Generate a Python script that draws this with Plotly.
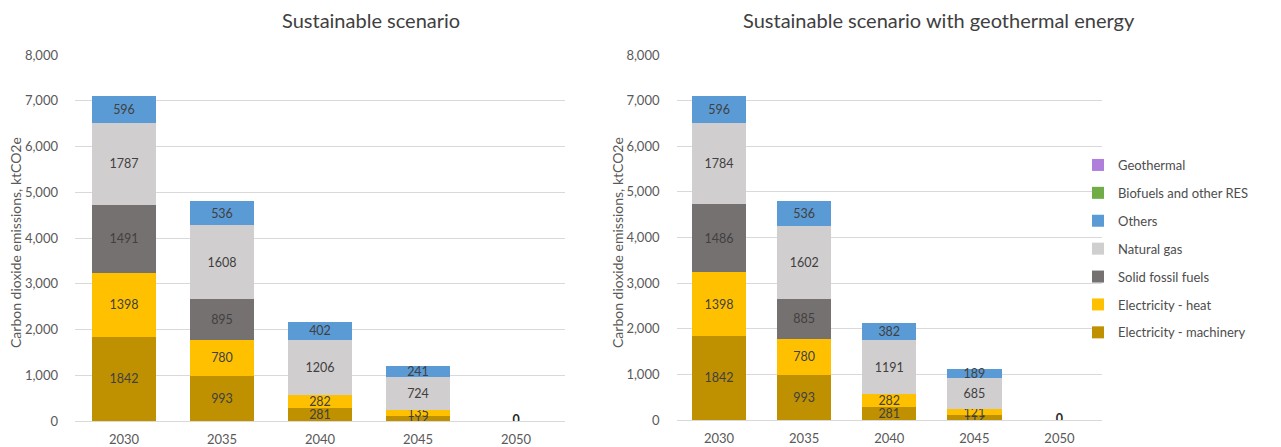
import plotly.graph_objects as go

years = ["2030", "2035", "2040", "2045", "2050"]

series_names = [
    "Electricity - machinery",
    "Electricity - heat",
    "Solid fossil fuels",
    "Natural gas",
    "Others",
    "Biofuels and other RES",
    "Geothermal",
]
series_colors = ["#BF9000", "#FFC000", "#767171", "#D0CECE", "#5B9BD5", "#70AD47", "#B07FDB"]

# Sustainable scenario (ktCO2e)
sus_machinery = [1842, 993, 281, 112, 0]
sus_heat = [1398, 780, 282, 135, 0]
sus_solid = [1491, 895, 0, 0, 0]
sus_gas = [1787, 1608, 1206, 724, 0]
sus_others = [596, 536, 402, 241, 0]
sus_biofuels = [0, 0, 0, 0, 0]
sus_geothermal = [0, 0, 0, 0, 0]

# Sustainable scenario with geothermal energy (ktCO2e)
geo_machinery = [1842, 993, 281, 112, 0]
geo_heat = [1398, 780, 282, 121, 0]
geo_solid = [1486, 885, 0, 0, 0]
geo_gas = [1784, 1602, 1191, 685, 0]
geo_others = [596, 536, 382, 189, 0]
geo_biofuels = [0, 0, 0, 0, 0]
geo_geothermal = [0, 0, 0, 0, 0]

panels = [
    ("x", "y", [sus_machinery, sus_heat, sus_solid, sus_gas, sus_others, sus_biofuels, sus_geothermal], False),
    ("x2", "y2", [geo_machinery, geo_heat, geo_solid, geo_gas, geo_others, geo_biofuels, geo_geothermal], True),
]

FONT = "Lato, 'Open Sans', sans-serif"
LABEL_COLOR = "#404040"
n_series = len(series_names)

fig = go.Figure()
for xa, ya, data, show_legend in panels:
    for i, (name, color, vals) in enumerate(zip(series_names, series_colors, data)):
        fig.add_trace(go.Bar(
            x=years, y=vals, name=name, xaxis=xa, yaxis=ya,
            marker=dict(color=color, line=dict(width=0)),
            text=[str(v) if v else "" for v in vals],
            textposition="inside", insidetextanchor="middle",
            textfont=dict(family=FONT, size=12.5, color=LABEL_COLOR),
            showlegend=show_legend, legendgroup=name, legendrank=n_series - i,
            width=0.65 if xa == "x" else 0.64,
        ))
    # zero-total label for years with no emissions
    totals = [sum(col) for col in zip(*data)]
    zx = [yr for yr, t in zip(years, totals) if t == 0]
    zy = [t for t in totals if t == 0]
    fig.add_trace(go.Scatter(
        x=zx, y=zy, xaxis=xa, yaxis=ya, mode="text",
        text=[f"<b>{t}</b>" for t in zy], textposition="middle center",
        textfont=dict(family=FONT, size=12.5, color="#262626"),
        showlegend=False, hoverinfo="skip",
    ))

yaxis_common = dict(
    range=[0, 8000], tickvals=list(range(0, 8001, 1000)), tickformat=",d",
    showgrid=True, gridcolor="#D9D9D9", gridwidth=1, zeroline=False, showline=False,
    tickfont=dict(family=FONT, size=13, color="#595959"), ticks="", ticklabelstandoff=16,
    automargin=False,
)
xaxis_common = dict(
    type="category", showgrid=False, zeroline=False, showline=True, linecolor="#D9D9D9",
    ticks="", tickfont=dict(family=FONT, size=13, color="#595959"), ticklabelstandoff=6,
    automargin=False,
)

fig.update_layout(
    width=1281, height=447,
    margin=dict(l=0, r=0, t=0, b=0),
    paper_bgcolor="white", plot_bgcolor="white",
    barmode="stack", bargap=0.35,
    font=dict(family=FONT, color="#595959"),
    uniformtext=dict(minsize=12.5, mode="show"),
    xaxis=dict(domain=[75 / 1281, 565 / 1281], anchor="y", **xaxis_common),
    yaxis=dict(domain=[26 / 447, 392 / 447], anchor="x", **yaxis_common),
    xaxis2=dict(domain=[676.5 / 1281, 1102 / 1281], anchor="y2", **xaxis_common),
    yaxis2=dict(domain=[27 / 447, 392 / 447], anchor="x2", **yaxis_common),
    legend=dict(
        x=1078 / 1281, y=(447 - 150) / 447, xanchor="left", yanchor="top",
        traceorder="grouped", tracegroupgap=8, itemwidth=30,
        font=dict(family=FONT, size=13, color="#4D4D4D"), bgcolor="rgba(0,0,0,0)",
    ),
    annotations=[
        dict(text="Sustainable scenario", x=371 / 1281, y=(447 - 20) / 447,
             xref="paper", yref="paper", xanchor="center", yanchor="middle", showarrow=False,
             font=dict(family=FONT, size=20, color="#404040")),
        dict(text="Sustainable scenario with geothermal energy", x=939 / 1281, y=(447 - 20) / 447,
             xref="paper", yref="paper", xanchor="center", yanchor="middle", showarrow=False,
             font=dict(family=FONT, size=20, color="#404040")),
        dict(text="Carbon dioxide emissions, ktCO2e", x=15 / 1281, y=(447 - 243) / 447,
             xref="paper", yref="paper", xanchor="center", yanchor="middle",
             showarrow=False, textangle=-90,
             font=dict(family=FONT, size=14, color="#595959")),
        dict(text="Carbon dioxide emissions, ktCO2e", x=617 / 1281, y=(447 - 243) / 447,
             xref="paper", yref="paper", xanchor="center", yanchor="middle",
             showarrow=False, textangle=-90,
             font=dict(family=FONT, size=14, color="#595959")),
    ],
)

fig.write_html("out.html")
